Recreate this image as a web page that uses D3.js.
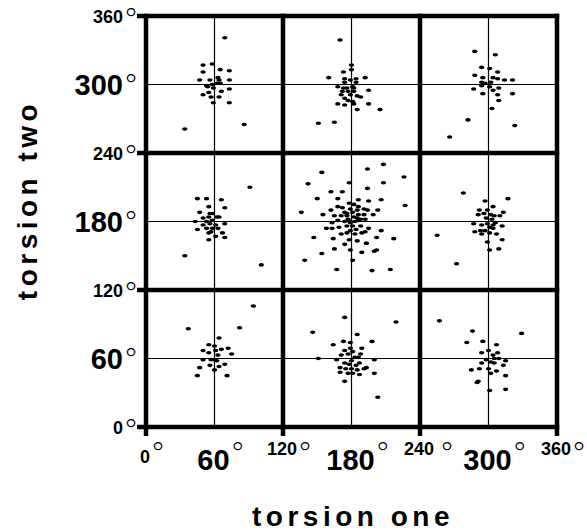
<!DOCTYPE html>
<html>
<head>
<meta charset="utf-8">
<script src="https://cdn.jsdelivr.net/npm/d3@7"></script>
<style>
  body { margin: 0; background: #fff; }
  svg { display: block; font-family: "Liberation Sans", Arial, Helvetica, sans-serif; }
  .deg { font-family: "DejaVu Sans", sans-serif; font-weight: 200; }
</style>
</head>
<body>
<div id="container"></div>
<script>
// ---------- DATA (degrees: [torsion one, torsion two]) ----------
const cluster60x300 = [
    [69,341],[50,317],[58,318],[50,311],[65,313],[73,312],[47,304],[56,304],[63,306],[64,304],
    [73,304],[53,299],[58,300],[62,301],[65,301],[54,298],[59,297],[73,296],[66,294],[55,293],
    [50,291],[57,289],[64,289],[59,284],[73,284],[86,265],[34,261]
];
const cluster180x300 = [
    [170,339],[180,317],[180,313],[173,311],[160,306],[174,305],[179,304],[184,305],[192,306],[174,302],
    [184,302],[168,298],[173,297],[176,297],[181,298],[182,297],[195,295],[172,294],[177,294],[182,294],
    [171,291],[179,291],[185,290],[188,289],[174,288],[177,286],[181,285],[168,283],[174,282],[182,283],
    [195,283],[185,278],[205,278],[151,266],[165,267]
];
const cluster300x300 = [
    [288,329],[306,326],[294,315],[301,314],[308,311],[288,308],[295,306],[304,306],[308,305],[314,304],
    [321,304],[302,302],[294,302],[297,301],[294,299],[301,298],[309,297],[287,296],[304,295],[295,292],
    [308,291],[321,292],[309,286],[303,279],[282,269],[323,264],[266,254]
];
const cluster60x180 = [
    [91,210],[45,200],[53,200],[66,199],[55,193],[69,192],[47,188],[56,187],[58,187],[55,184],
    [62,184],[64,184],[50,183],[43,180],[53,180],[58,181],[50,177],[56,178],[61,177],[69,178],
    [45,173],[53,174],[58,174],[63,174],[55,170],[57,171],[67,170],[61,167],[69,166],[55,164],
    [34,150],[101,142]
];
const cluster180x180 = [
    [154,223],[194,226],[208,230],[226,219],[142,213],[178,214],[208,214],[162,206],[172,206],[194,209],
    [150,200],[168,200],[186,199],[195,198],[206,199],[227,194],[136,188],[155,186],[147,166],[217,165],
    [154,152],[139,146],[181,146],[167,138],[198,137],[214,138],[189,153],[200,154],[202,155],[179,155],
    [165,156],[174,160],[193,161],[202,166],[206,172],
    [162,190],[168,193],[172,192],[178,196],[182,195],[186,193],[191,191],[194,190],[203,190],[199,186],
    [191,186],[186,186],[181,188],[176,187],[176,185],[171,185],[165,185],[163,179],[158,174],[163,174],
    [169,175],[176,176],[181,176],[188,176],[195,174],[183,180],[177,182],[179,180],[174,180],[168,181],
    [188,182],[192,182],[185,183],[182,184],[179,179],[186,181],[171,169],[176,170],[183,169],[189,170],
    [192,171],[184,173],[179,172],[164,165],[178,164],[185,163],[193,161],[185,190],[179,191],[174,188]
];
const cluster300x180 = [
    [278,205],[317,200],[297,198],[304,193],[292,190],[299,190],[313,188],[291,186],[296,187],[302,186],
    [305,185],[310,185],[298,183],[303,182],[287,178],[294,177],[299,178],[304,177],[306,179],[301,175],
    [312,176],[288,171],[293,172],[297,172],[301,170],[304,174],[294,169],[307,169],[312,164],[299,162],
    [301,155],[309,156],[255,168],[272,143]
];
const cluster60x60 = [
    [94,106],[37,86],[82,87],[64,78],[55,72],[60,71],[50,67],[55,65],[61,67],[66,68],
    [72,69],[75,64],[63,63],[50,59],[57,59],[60,59],[62,58],[69,55],[56,54],[64,53],
    [47,52],[60,50],[45,45],[71,45]
];
const cluster180x60 = [
    [174,96],[219,92],[146,83],[185,81],[173,75],[179,74],[198,75],[164,72],[179,69],[189,69],
    [174,67],[181,66],[188,64],[171,63],[177,64],[183,61],[186,61],[151,60],[167,59],[180,58],
    [174,56],[187,56],[200,59],[178,55],[184,54],[170,52],[175,51],[180,51],[185,50],[191,51],
    [193,52],[170,48],[177,47],[181,47],[187,46],[200,47],[174,40],[203,26]
];
const cluster300x60 = [
    [257,93],[286,84],[329,82],[281,74],[295,75],[307,72],[294,65],[300,67],[308,65],[304,63],
    [298,59],[305,60],[309,60],[315,58],[294,56],[302,57],[305,56],[313,54],[292,51],[300,51],
    [307,49],[285,50],[302,47],[315,45],[291,40],[290,39],[301,32],[315,33]
];

const majorTicks = [0, 120, 240, 360];
const minorTicks = [60, 180, 300];
const tickLabels = ['0', '60', '120', '180', '240', '300', '360'];
const tickValues = [0, 60, 120, 180, 240, 300, 360];
const xTitle = 'torsion one';
const yTitle = 'torsion two';

// ---------- DIMENSIONS ----------
const width = 587;
const height = 531;

const svg = d3.select('#container').append('svg')
    .attr('width', width)
    .attr('height', height);

const x = d3.scaleLinear().domain([0, 360]).range([146, 557]);
const y = d3.scaleLinear().domain([0, 360]).range([427, 16]);

// ---------- GRID ----------
const grid = svg.append('g').attr('stroke', '#000');

grid.selectAll('line.vthin').data(minorTicks).join('line')
    .attr('class', 'vthin')
    .attr('x1', d => x(d)).attr('x2', d => x(d))
    .attr('y1', y(360)).attr('y2', y(0))
    .attr('stroke-width', 1.2);

grid.selectAll('line.hthin').data(minorTicks).join('line')
    .attr('class', 'hthin')
    .attr('y1', d => y(d)).attr('y2', d => y(d))
    .attr('x1', x(0)).attr('x2', x(360))
    .attr('stroke-width', 1.2);

grid.selectAll('line.vthick').data(majorTicks).join('line')
    .attr('class', 'vthick')
    .attr('x1', d => x(d)).attr('x2', d => x(d))
    .attr('y1', y(360) - 2.2).attr('y2', y(0) + 9)
    .attr('stroke-width', 4.5);

grid.selectAll('line.hthick').data(majorTicks).join('line')
    .attr('class', 'hthick')
    .attr('y1', d => y(d)).attr('y2', d => y(d))
    .attr('x1', x(0) - 9).attr('x2', x(360) + 2.2)
    .attr('stroke-width', 4.5);

// ---------- POINTS ----------
const allPoints = [].concat(
    cluster60x300, cluster180x300, cluster300x300,
    cluster60x180, cluster180x180, cluster300x180,
    cluster60x60, cluster180x60, cluster300x60
);

svg.append('g').selectAll('ellipse').data(allPoints).join('ellipse')
    .attr('cx', d => x(d[0]))
    .attr('cy', d => y(d[1]))
    .attr('rx', 2.7)
    .attr('ry', 1.8)
    .attr('fill', '#000');

// ---------- TICK LABELS ----------
// number + superscript ring in one text; ring top sits ~0.73em above its baseline
const degSize = 32;
function isBig(v) { return minorTicks.includes(v); }

function degLabel(g, label, big, numBase, degBase, degDx) {
    const t = g.append('text').attr('y', numBase);
    const num = t.append('tspan')
        .attr('font-weight', 'bold')
        .attr('font-size', big ? 29 : 18)
        .text(label);
    t.append('tspan')
        .attr('class', 'deg')
        .attr('font-size', degSize)
        .attr('dx', degDx)
        .attr('dy', degBase - numBase)
        .text('°');
    return { t, w: num.node().getComputedTextLength() };
}

const xLab = svg.append('g');
tickValues.forEach((v, i) => {
    const big = isBig(v);
    const base = big ? 470 : (v === 0 ? 463 : 455);
    const { t, w } = degLabel(xLab, tickLabels[i], big, base, 465, v === 240 ? 5 : 0);
    t.attr('x', x(v) - w / 2 - 1);
});

const yLab = svg.append('g');
tickValues.forEach((v, i) => {
    const big = isBig(v);
    const base = y(v) + (big ? 10.5 : 6.5);
    const { t, w } = degLabel(yLab, tickLabels[i], big, base, base + (big ? 2 : 8), 0);
    t.attr('x', 123 - w);
});

// ---------- AXIS TITLES ----------
svg.append('text')
    .attr('x', 353)
    .attr('y', 526)
    .attr('text-anchor', 'middle')
    .attr('font-weight', 'bold')
    .attr('font-size', 28)
    .attr('letter-spacing', 4.5)
    .text(xTitle);

svg.append('text')
    .attr('transform', 'translate(37,200) rotate(-90)')
    .attr('text-anchor', 'middle')
    .attr('font-weight', 'bold')
    .attr('font-size', 28)
    .attr('letter-spacing', 4.5)
    .text(yTitle);
</script>
</body>
</html>
